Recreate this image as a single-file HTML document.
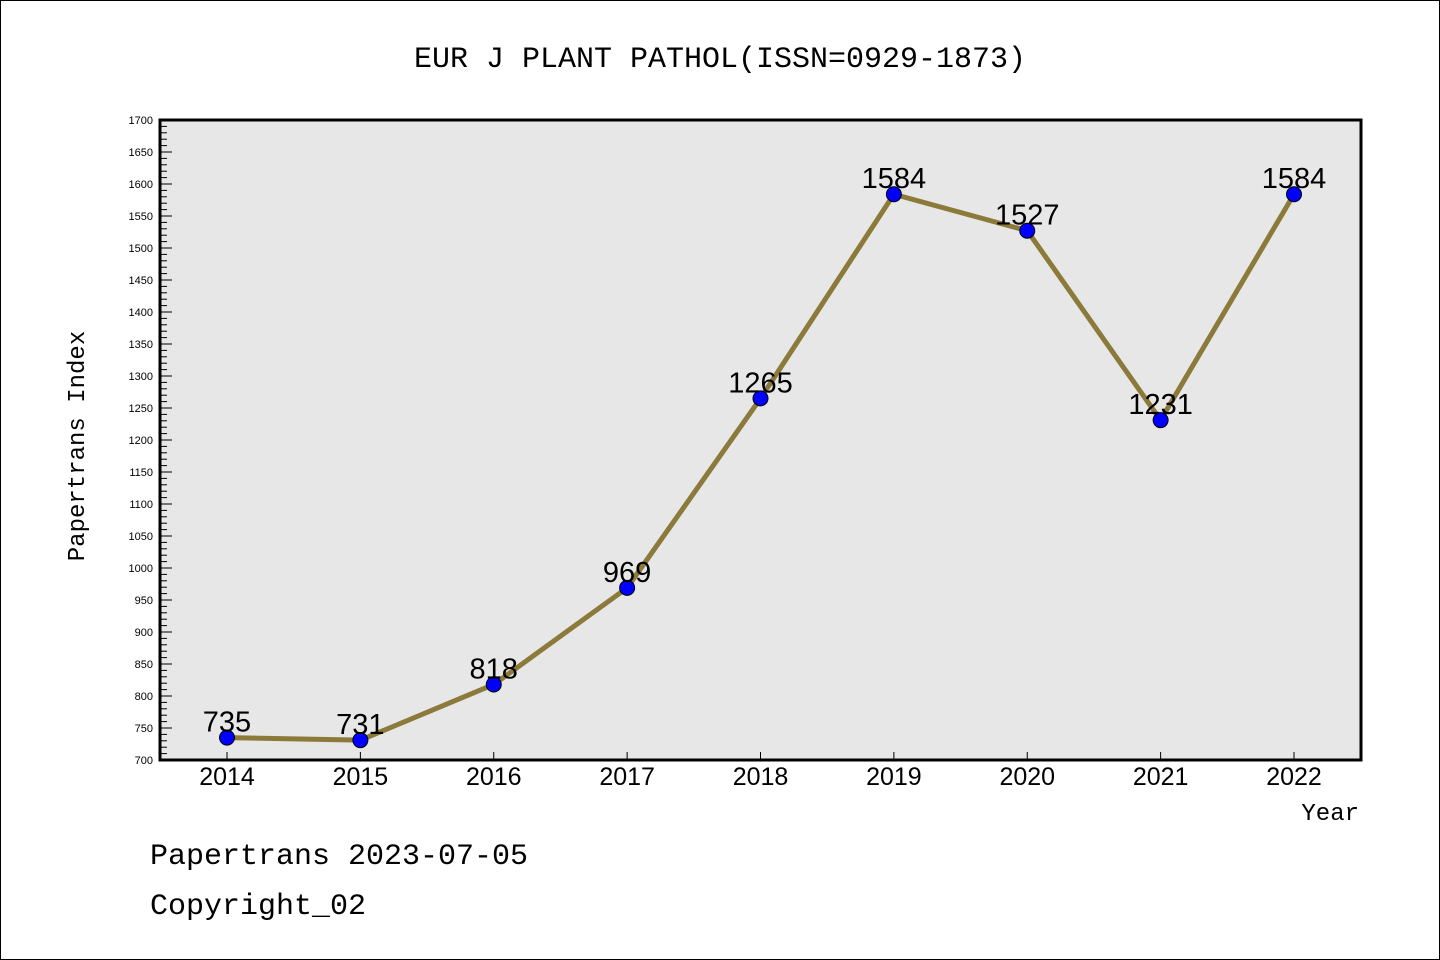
<!DOCTYPE html>
<html><head><meta charset="utf-8"><style>
html,body{margin:0;padding:0;background:#fff}
svg{display:block}
text{font-family:"Liberation Mono","DejaVu Sans Mono",monospace}
text.sans{font-family:"Liberation Sans","DejaVu Sans",sans-serif}
</style></head><body>
<svg id="chart" width="1440" height="960">
<rect x="0.5" y="0.5" width="1439" height="959" fill="#fff" stroke="#000"/>
<text x="720" y="67" text-anchor="middle" font-size="30">EUR J PLANT PATHOL(ISSN=0929-1873)</text>
<rect x="160" y="120" width="1201" height="640" fill="#e7e7e7" stroke="#000" stroke-width="3"/>
<g id="yaxis"></g>
<g id="xaxis"></g>
<g id="series"></g>
<text transform="translate(84,446) rotate(-90)" text-anchor="middle" font-size="24">Papertrans Index</text>
<text x="1359" y="820" text-anchor="end" font-size="24">Year</text>
<text x="150" y="864" font-size="30">Papertrans 2023-07-05</text>
<text x="150" y="914" font-size="30">Copyright_02</text>
</svg>
<script>
const years=["2014","2015","2016","2017","2018","2019","2020","2021","2022"];
const values=[735,731,818,969,1265,1584,1527,1231,1584];
const yMin=700,yMax=1700;
const NS="http://www.w3.org/2000/svg";
const X0=227,X1=1294,PT=120,PB=760;
function xs(i){return X0+(X1-X0)*i/(years.length-1);}
function ys(v){return PB-(v-yMin)/(yMax-yMin)*(PB-PT);}
function mk(tag,attrs,parent,txt){const e=document.createElementNS(NS,tag);for(const k in attrs)e.setAttribute(k,attrs[k]);if(txt!==undefined)e.textContent=txt;parent.appendChild(e);return e;}
const ya=document.getElementById('yaxis');
for(let v=yMin;v<=yMax;v+=10){
  const major=v%50===0;
  const t=mk('line',{x1:160,x2:160+(major?12:7),y1:ys(v),y2:ys(v),stroke:'#000','stroke-width':1},ya);
  
  
  if(major){
    const l=mk('text',{x:153,y:ys(v)+4,'text-anchor':'end','font-size':11,'class':'sans'},ya,String(v));
    
    
  }
}
const xa=document.getElementById('xaxis');
years.forEach((y,i)=>{
  const t=mk('line',{x1:xs(i),x2:xs(i),y1:752,y2:760,stroke:'#000','stroke-width':1},xa);
  
  
  const l=mk('text',{x:xs(i),y:785,'text-anchor':'middle','font-size':25,'class':'sans'},xa,y);
  
  
});
const s=document.getElementById('series');
const pl=mk('polyline',{points:values.map((v,i)=>xs(i)+','+ys(v)).join(' '),fill:'none',stroke:'#8b7a3a','stroke-width':5,'stroke-linejoin':'round'},s);


values.forEach((v,i)=>{
  const c=mk('circle',{cx:xs(i),cy:ys(v),r:7.5,fill:'#0000ff',stroke:'#000','stroke-width':1},s);
  
  
  const l=mk('text',{x:xs(i),y:ys(v)-6,'text-anchor':'middle','font-size':29,'class':'sans'},s,String(v));
  
  
});
</script>
</body></html>
